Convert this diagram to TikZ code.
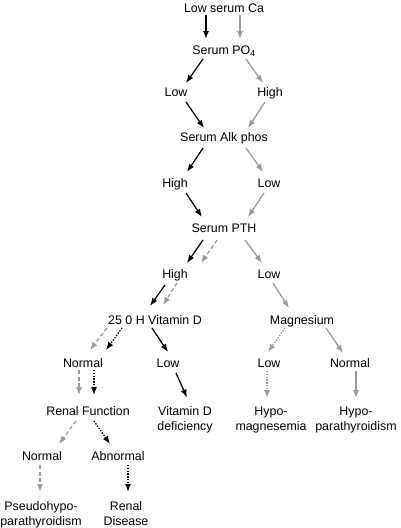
\documentclass[tikz,border=0pt]{standalone}
\usepackage{fontspec}
\setmainfont{Liberation Sans}
\usetikzlibrary{arrows.meta}
\definecolor{lgray}{HTML}{9A9A9A}
\tikzset{
  lbl/.style={inner sep=0pt, text height=8.9pt, text depth=0pt, anchor=center,
    font={\fontsize{12.4}{15}\selectfont}},
  lbl2/.style={inner sep=0pt, anchor=north, align=center,
    font={\fontsize{12.4}{15}\selectfont}},
  arr/.style={line width=1.25pt, -{Latex[length=8pt,width=6pt]}},
  blk/.style={arr, black},
  gry/.style={arr, lgray},
  gdash/.style={arr, lgray, dash pattern=on 4pt off 2.5pt},
  bdot/.style={arr, black, dash pattern=on 1.4pt off 1.4pt},
  gdot/.style={arr, lgray, dash pattern=on 1.4pt off 1.4pt},
}
\begin{document}
\begin{tikzpicture}[x=1pt,y=-1pt]
\useasboundingbox (0,0) rectangle (400,528);
% nodes
\node[lbl] (ca) at (224,8) {Low serum Ca};
\node[lbl] (po4) at (224,50) {Serum PO\textsubscript{4}};
\node[lbl] (low1) at (176,92) {Low};
\node[lbl] (high1) at (270,92) {High};
\node[lbl] (alk) at (224,137) {Serum Alk phos};
\node[lbl] (high2) at (175,183) {High};
\node[lbl] (low2) at (269,183) {Low};
\node[lbl] (pth) at (224,228) {Serum PTH};
\node[lbl] (high3) at (175,274) {High};
\node[lbl] (low3) at (269,274) {Low};
\node[lbl] (vitd) at (155,320) {25 0 H Vitamin D};
\node[lbl] (mg) at (302,320) {Magnesium};
\node[lbl] (normal1) at (83,363) {Normal};
\node[lbl] (low4) at (168,363) {Low};
\node[lbl] (low5) at (269,363) {Low};
\node[lbl] (normal2) at (350,363) {Normal};
\node[lbl] (renal) at (88,411) {Renal Function};
\node[lbl2] (vdd) at (185,406.5) {Vitamin D\\deficiency};
\node[lbl2] (hypomg) at (271,406.5) {Hypo-\\magnesemia};
\node[lbl2] (hypopth) at (356,406.5) {Hypo-\\parathyroidism};
\node[lbl] (normal3) at (42,456) {Normal};
\node[lbl] (abnormal) at (118,456) {Abnormal};
\node[lbl2] (pseudo) at (41,501.5) {Pseudohypo-\\parathyroidism};
\node[lbl2] (renaldis) at (126,501.5) {Renal\\Disease};
% connectors
\draw[blk] ([shift={(-18,7)}]ca.center) -- ([shift={(-18,-11)}]po4.center);
\draw[gry] ([shift={(16,7)}]ca.center) -- ([shift={(16,-11)}]po4.center);
\draw[blk] ([shift={(-21,9)}]po4.center) -- ([shift={(10,-9)}]low1.center);
\draw[gry] ([shift={(22,9)}]po4.center) -- ([shift={(-7,-9)}]high1.center);
\draw[blk] ([shift={(10,10)}]low1.center) -- ([shift={(-20,-9)}]alk.center);
\draw[gry] ([shift={(-5,10)}]high1.center) -- ([shift={(24,-9)}]alk.center);
\draw[blk] ([shift={(-21,11)}]alk.center) -- ([shift={(12,-11)}]high2.center);
\draw[gry] ([shift={(22,11)}]alk.center) -- ([shift={(-6,-11)}]low2.center);
\draw[blk] ([shift={(11,10)}]high2.center) -- ([shift={(-22,-11)}]pth.center);
\draw[gry] ([shift={(-5,10)}]low2.center) -- ([shift={(24,-11)}]pth.center);
\draw[blk] ([shift={(-21,12)}]pth.center) -- ([shift={(12,-11)}]high3.center);
\draw[gdash] ([shift={(-7,12)}]pth.center) -- ([shift={(26,-11)}]high3.center);
\draw[gry] ([shift={(21,12)}]pth.center) -- ([shift={(-7,-11)}]low3.center);
\draw[blk] ([shift={(-10,11)}]high3.center) -- ([shift={(-5,-14)}]vitd.center);
\draw[gdash] ([shift={(2,9)}]high3.center) -- ([shift={(8,-15)}]vitd.center);
\draw[gdash] ([shift={(-48,8)}]vitd.center) -- ([shift={(7,-13)}]normal1.center);
\draw[bdot] ([shift={(-33,8)}]vitd.center) -- ([shift={(23,-13)}]normal1.center);
\draw[blk] ([shift={(-3,8)}]vitd.center) -- ([shift={(0,-11)}]low4.center);
\draw[gdash] ([shift={(-4,7)}]normal1.center) -- ([shift={(-9,-16)}]renal.center);
\draw[bdot] ([shift={(11,7)}]normal1.center) -- ([shift={(6,-16)}]renal.center);
\draw[blk] ([shift={(8,10)}]low4.center) -- ([shift={(2,-9)}]vdd.north);
\draw[gdash] ([shift={(-12,10)}]renal.center) -- ([shift={(17,-12)}]normal3.center);
\draw[bdot] ([shift={(6,10)}]renal.center) -- ([shift={(-8,-12)}]abnormal.center);
\draw[gdash] ([shift={(-2,9)}]normal3.center) -- ([shift={(-1,-9.5)}]pseudo.north);
\draw[bdot] ([shift={(10,9)}]abnormal.center) -- ([shift={(2,-9.5)}]renaldis.north);
\draw[gry] ([shift={(4,9)}]low3.center) -- ([shift={(-13,-12)}]mg.center);
\draw[gdot] ([shift={(-17,8)}]mg.center) -- ([shift={(-1,-11)}]low5.center);
\draw[gry] ([shift={(24,8)}]mg.center) -- ([shift={(-7,-10)}]normal2.center);
\draw[gdot] ([shift={(-2,8)}]low5.center) -- ([shift={(-4,-8.5)}]hypomg.north);
\draw[gry] ([shift={(6,8)}]normal2.center) -- ([shift={(0,-8.5)}]hypopth.north);
\end{tikzpicture}
\end{document}
